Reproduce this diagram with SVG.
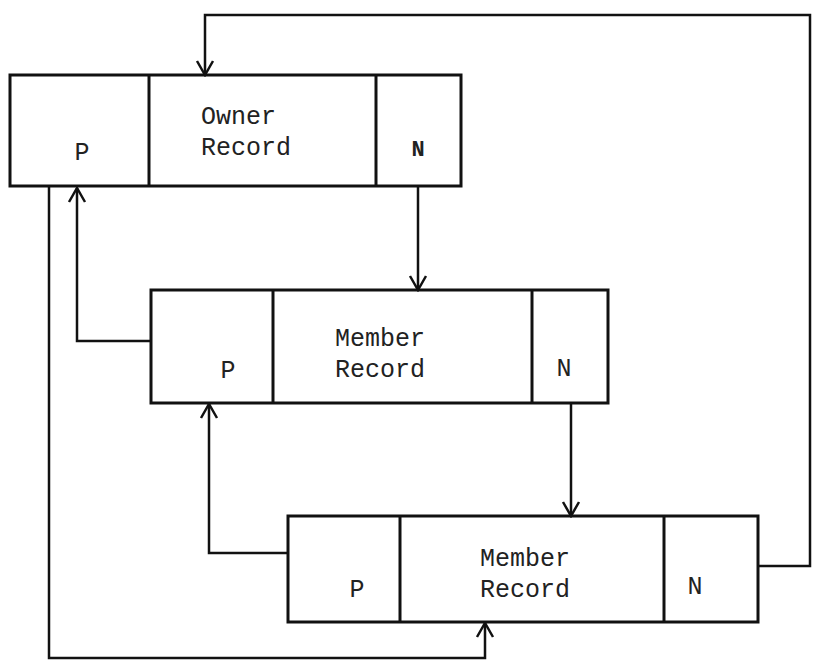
<svg xmlns="http://www.w3.org/2000/svg" width="818" height="662" viewBox="0 0 818 662">
<style>
.box{fill:none;stroke:#111;stroke-width:3}
.div{stroke:#111;stroke-width:3}
.con{fill:none;stroke:#111;stroke-width:2.5;stroke-linejoin:miter}
.t{font-family:"Liberation Mono","DejaVu Sans Mono",monospace;font-size:25px;fill:#222}
.b{font-weight:bold;font-size:22px}
</style>
<defs>
<marker id="arr" viewBox="0 0 20 20" refX="18" refY="10" markerWidth="20" markerHeight="20" markerUnits="userSpaceOnUse" orient="auto">
<path d="M4,2 L18,10 L4,18" fill="none" stroke="#111" stroke-width="2.5"/>
</marker>
</defs>
<rect width="818" height="662" fill="#fff"/>
<g id="connectors">
<path class="con" d="M758,566 L810,566 L810,15 L205,15 L205,75" marker-end="url(#arr)"/>
<path class="con" d="M418,186 L418,290" marker-end="url(#arr)"/>
<path class="con" d="M151,341 L77,341 L77,188" marker-end="url(#arr)"/>
<path class="con" d="M571,403 L571,516" marker-end="url(#arr)"/>
<path class="con" d="M288,553 L209,553 L209,404" marker-end="url(#arr)"/>
<path class="con" d="M49,186 L49,658 L485,658 L485,623" marker-end="url(#arr)"/>
</g>
<g id="owner">
<rect class="box" x="10" y="75" width="451" height="111"/>
<line class="div" x1="149" y1="75" x2="149" y2="186"/>
<line class="div" x1="376" y1="75" x2="376" y2="186"/>
<text class="t" x="82" y="160" text-anchor="middle">P</text>
<text class="t" x="201" y="124">Owner</text>
<text class="t" x="201" y="155">Record</text>
<text class="t b" x="418" y="156" text-anchor="middle">N</text>
</g>
<g id="member1">
<rect class="box" x="151" y="290" width="457" height="113"/>
<line class="div" x1="273" y1="290" x2="273" y2="403"/>
<line class="div" x1="532" y1="290" x2="532" y2="403"/>
<text class="t" x="228" y="378" text-anchor="middle">P</text>
<text class="t" x="335" y="346">Member</text>
<text class="t" x="335" y="377">Record</text>
<text class="t" x="564" y="376" text-anchor="middle">N</text>
</g>
<g id="member2">
<rect class="box" x="288" y="516" width="470" height="106"/>
<line class="div" x1="400" y1="516" x2="400" y2="622"/>
<line class="div" x1="664" y1="516" x2="664" y2="622"/>
<text class="t" x="357" y="597" text-anchor="middle">P</text>
<text class="t" x="480" y="566">Member</text>
<text class="t" x="480" y="597">Record</text>
<text class="t" x="695" y="594" text-anchor="middle">N</text>
</g>
</svg>
